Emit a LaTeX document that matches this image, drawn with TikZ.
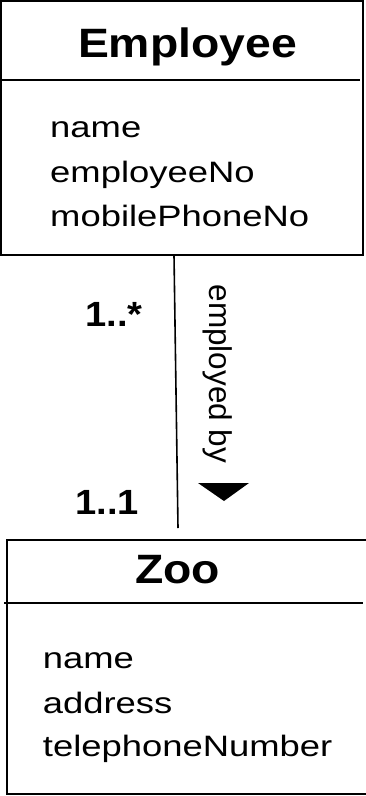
\documentclass[tikz,border=0pt]{standalone}
\usepackage{fontspec}
\setmainfont{Liberation Sans}
\begin{document}
\begin{tikzpicture}[x=1pt,y=-1pt,
  boxline/.style={line width=2pt,line cap=rect},
  titletext/.style={inner sep=0pt,anchor=base,font=\fontsize{41}{41}\bfseries\selectfont},
  attrtext/.style={inner sep=0pt,anchor=base west,font=\fontsize{29.5}{29.5}\selectfont},
  multtext/.style={inner sep=0pt,anchor=base west,font=\fontsize{35}{35}\bfseries\selectfont},
  roletext/.style={inner sep=0pt,rotate=-90,font=\fontsize{31.5}{31.5}\selectfont}]
\useasboundingbox (0,0) rectangle (366,796);
% Employee class
\draw[boxline] (1,1) rectangle (363,255);
\draw[boxline,line cap=butt] (0,80) -- (360,80);
\node[titletext] (empname) at (187.5,57.7) {\scalebox{1.13}[1]{Employee}};
\node[attrtext] (ea1) at (50,137) {\scalebox{1.234}[1]{name}};
\node[attrtext] (ea2) at (50,182) {\scalebox{1.234}[1]{employeeNo}};
\node[attrtext] (ea3) at (50,226.7) {\scalebox{1.234}[1]{mobilePhoneNo}};
% Zoo class
\draw[boxline] (367,540) -- (7,540) -- (7,794) -- (367,794);
\draw[boxline,line cap=butt] (4,603) -- (363,603);
\node[titletext] (zooname) at (177.5,583) {\scalebox{1.13}[1]{Zoo}};
\node[attrtext] (za1) at (42.7,668) {\scalebox{1.234}[1]{name}};
\node[attrtext] (za2) at (42.7,713) {\scalebox{1.234}[1]{address}};
\node[attrtext] (za3) at (42.7,756) {\scalebox{1.234}[1]{telephoneNumber}};
% association
\coordinate (assocTop) at (174,255);
\coordinate (assocBot) at (178,528);
\draw[line width=1.6pt] (assocTop) -- (assocBot);
\node[multtext] (m1) at (85,326.7) {\scalebox{1.09}[1]{1..*}};
\node[multtext] (m2) at (75,514) {\scalebox{1.09}[1]{1..1}};
\node[roletext] (role) at (218,374) {employed by};
\fill (198,483) -- (249,483) -- (224,501) -- cycle;
\end{tikzpicture}
\end{document}
